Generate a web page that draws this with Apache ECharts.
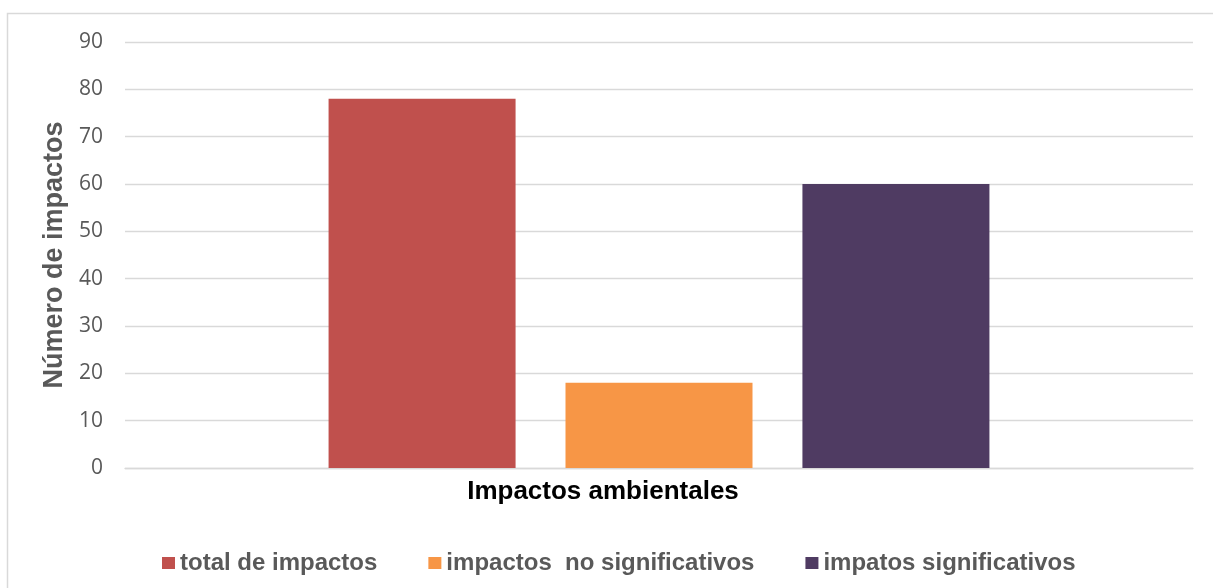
<!DOCTYPE html>
<html>
<head>
<meta charset="utf-8">
<script src="https://cdn.jsdelivr.net/npm/echarts@6/dist/echarts.min.js"></script>
<style>
html,body{margin:0;padding:0;background:#fff;}
#chart{width:1213px;height:588px;}
</style>
</head>
<body>
<div id="chart"></div>
<script>
const categories = [''];
const seriesNames = ['total de impactos', 'impactos  no significativos', 'impatos significativos'];
const totalImpactos = [78];
const noSignificativos = [18];
const significativos = [60];
const yTicks = [0, 10, 20, 30, 40, 50, 60, 70, 80, 90];
const colors = ['#C0504D', '#F79646', '#4F3B62'];

const chart = echarts.init(document.getElementById('chart'), null, {renderer: 'canvas'});
const values = [totalImpactos, noSignificativos, significativos];

chart.setOption({
  animation: false,
  backgroundColor: '#ffffff',
  graphic: [{
    type: 'rect',
    shape: {x: 7.5, y: 13.5, width: 1400, height: 800},
    style: {fill: 'none', stroke: '#D9D9D9', lineWidth: 1.5},
    silent: true
  }],
  grid: {left: 125, right: 20, top: 42, bottom: 120, containLabel: false},
  legend: {
    data: seriesNames,
    left: 157,
    top: 546,
    itemWidth: 13,
    itemHeight: 12,
    itemGap: 51,
    icon: 'rect',
    textStyle: {fontFamily: 'Liberation Sans', fontWeight: 'bold', fontSize: 24, color: '#595959'}
  },
  xAxis: {
    type: 'category',
    data: categories,
    name: 'Impactos ambientales',
    nameLocation: 'middle',
    nameGap: 11,
    nameTextStyle: {fontFamily: 'Liberation Sans', fontWeight: 'bold', fontSize: 26, color: '#000000', verticalAlign: 'top', padding: [0, 112, 0, 0]},
    axisLine: {show: true, lineStyle: {color: '#D9D9D9', width: 1.3}},
    axisTick: {show: false},
    axisLabel: {show: false}
  },
  yAxis: {
    type: 'value',
    min: yTicks[0],
    max: yTicks[yTicks.length - 1],
    interval: 10,
    name: 'Número de impactos',
    nameLocation: 'middle',
    nameGap: 55,
    nameTextStyle: {fontFamily: 'Liberation Sans', fontWeight: 'bold', fontSize: 27, color: '#595959'},
    axisLine: {show: false},
    axisTick: {show: false},
    axisLabel: {fontFamily: 'Open Sans', fontSize: 21, color: '#595959', margin: 22},
    splitLine: {lineStyle: {color: '#D9D9D9', width: 1.3}}
  },
  series: seriesNames.map((n, i) => ({
    name: n,
    type: 'bar',
    data: values[i],
    barWidth: 187,
    barGap: '26.7%',
    itemStyle: {color: colors[i]}
  }))
});
</script>
</body>
</html>
